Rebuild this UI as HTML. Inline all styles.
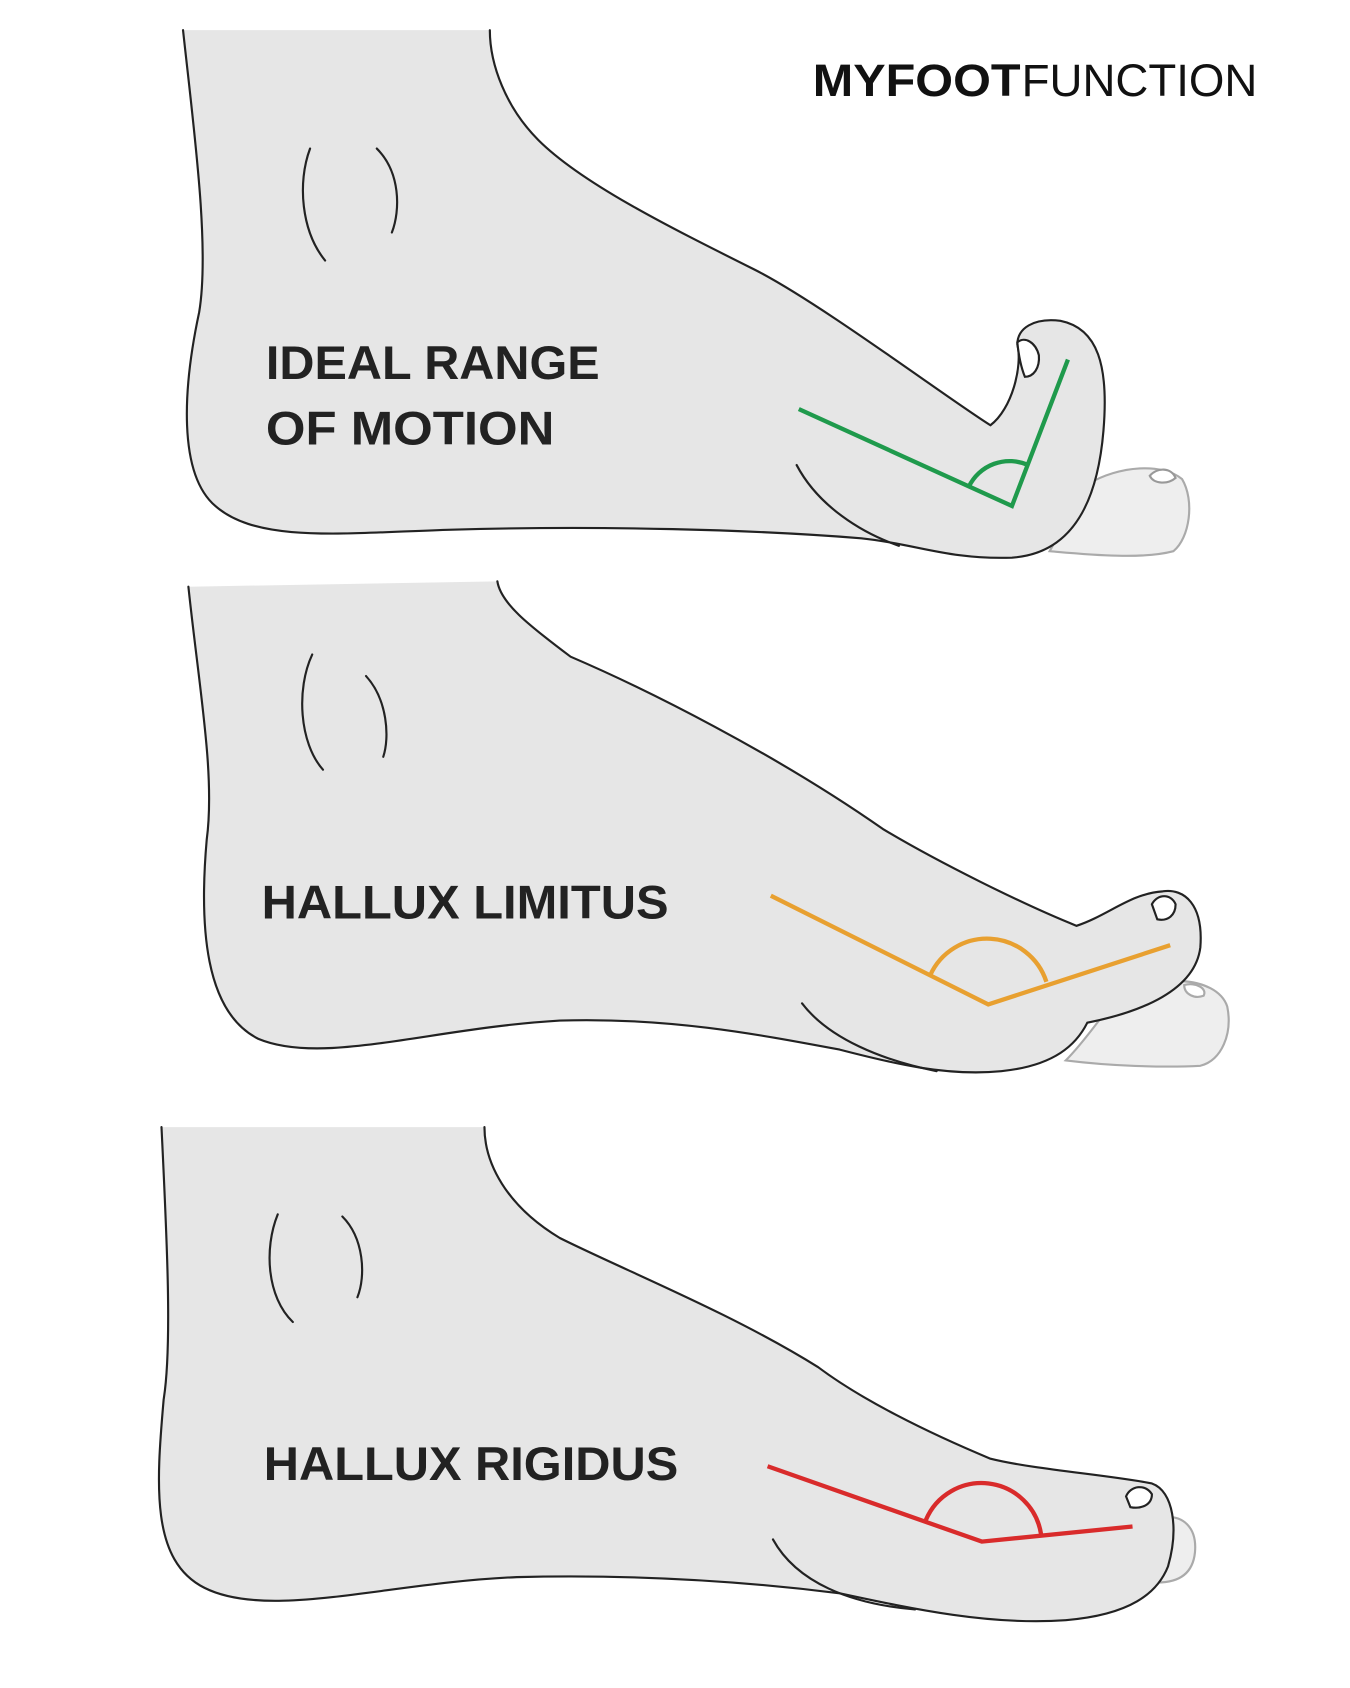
<!DOCTYPE html>
<html><head><meta charset="utf-8"><style>
html,body{margin:0;padding:0;background:#fff;}
svg{display:block;}
text{font-family:"Liberation Sans",sans-serif;}
</style></head><body>
<svg width="1350" height="1688" viewBox="0 0 1254 1568" xmlns="http://www.w3.org/2000/svg">
<rect width="1254" height="1568" fill="#fff"/>
<!-- logo -->
<text x="755" y="89" font-size="42" font-weight="bold" fill="#111" textLength="193" lengthAdjust="spacingAndGlyphs">MYFOOT</text>
<text x="949" y="89" font-size="42" fill="#111" textLength="219" lengthAdjust="spacingAndGlyphs">FUNCTION</text>

<g stroke="#222" stroke-width="2" fill="none" stroke-linecap="round">
<!-- foot 1 -->
<path d="M1010,450 C1040,432 1080,430 1098,445 C1110,465 1105,500 1090,512 C1060,520 1010,515 975,512 Z" fill="#eeeeee" stroke="#aaa"/>
<path d="M1068,442 C1075,434 1088,434 1092,444 C1085,450 1072,450 1068,442 Z" fill="#fff" stroke="#999"/>
<path d="M170,28 C180,120 195,230 185,290 C170,360 165,440 200,470 C240,505 320,495 420,492 C560,488 700,492 800,500 C850,505 880,520 940,518 C1000,514 1020,460 1025,400 C1030,340 1020,305 985,298 C960,295 945,305 945,320 C950,340 940,380 920,395 C880,370 760,280 700,250 C620,210 540,170 500,130 C470,100 455,60 455,28" fill="#e6e6e6"/>
<path d="M945,318 C952,312 962,318 965,330 C966,342 960,350 952,350 C948,340 946,328 945,318 Z" fill="#fff"/>
<path d="M740,432 C760,470 800,495 835,507"/>
<path d="M288,138 C276,170 280,215 302,242"/>
<path d="M350,138 C372,160 372,195 364,216"/>
<!-- foot 2 -->
<path d="M1040,925 C1070,905 1130,905 1140,935 C1145,960 1135,985 1115,990 C1080,992 1030,990 990,985 C1010,965 1025,940 1040,925 Z" fill="#eeeeee" stroke="#aaa"/>
<path d="M1100,915 C1110,912 1122,918 1118,925 C1110,928 1100,924 1100,915 Z" fill="#fff" stroke="#aaa"/>
<path d="M175,545 C185,640 200,720 192,780 C185,860 190,940 240,965 C300,990 400,955 520,948 C620,945 700,960 780,975 C830,988 880,1000 930,995 C980,990 1000,970 1010,950 C1060,940 1110,920 1115,880 C1118,840 1100,825 1080,828 C1050,830 1030,850 1000,860 C950,840 870,800 820,770 C720,700 600,640 530,610 C490,580 465,560 462,540" fill="#e6e6e6"/>
<path d="M1070,840 C1075,830 1088,830 1092,840 C1092,850 1085,856 1075,854 Z" fill="#fff"/>
<path d="M745,932 C770,965 820,985 870,995"/>
<path d="M290,608 C275,640 278,690 300,715"/>
<path d="M340,628 C360,650 362,685 356,703"/>
<!-- foot 3 -->
<path d="M1075,1410 C1100,1405 1112,1420 1110,1442 C1108,1462 1095,1470 1075,1470 C1030,1470 980,1468 950,1460 Z" fill="#eeeeee" stroke="#aaa"/>
<path d="M150,1047 C155,1150 160,1250 152,1300 C145,1380 140,1450 190,1475 C250,1505 360,1470 480,1465 C600,1462 700,1470 780,1480 C850,1495 920,1510 990,1505 C1050,1500 1075,1480 1085,1455 C1095,1420 1090,1385 1070,1378 C1030,1370 960,1365 920,1355 C860,1330 800,1300 760,1270 C680,1220 580,1180 520,1150 C470,1120 450,1080 450,1047" fill="#e6e6e6"/>
<path d="M1046,1390 C1050,1380 1064,1378 1070,1388 C1070,1398 1060,1402 1050,1400 Z" fill="#fff"/>
<path d="M718,1430 C740,1470 790,1490 850,1495"/>
<path d="M258,1128 C245,1160 248,1205 272,1228"/>
<path d="M318,1130 C338,1150 340,1185 332,1205"/>
</g>

<!-- angle markers -->
<g fill="none" stroke-width="4" stroke-linejoin="miter">
<path d="M742,380 L940,470 L992,334" stroke="#1f9a4c"/>
<path d="M900,452 A42,42 0 0 1 955,432" stroke="#1f9a4c"/>
<path d="M716,832 L918,933 L1087,878" stroke="#e8a030"/>
<path d="M864,906 A58,58 0 0 1 972,912" stroke="#e8a030"/>
<path d="M713,1362 L912,1432 L1052,1418" stroke="#d92b2b"/>
<path d="M860,1412 A56,56 0 0 1 967,1425" stroke="#d92b2b"/>
</g>

<!-- labels -->
<g font-weight="bold" font-size="44" fill="#222">
<text x="247" y="352" textLength="310" lengthAdjust="spacingAndGlyphs">IDEAL RANGE</text>
<text x="247" y="413" textLength="268" lengthAdjust="spacingAndGlyphs">OF MOTION</text>
<text x="243" y="853" textLength="378" lengthAdjust="spacingAndGlyphs">HALLUX LIMITUS</text>
<text x="245" y="1375" textLength="385" lengthAdjust="spacingAndGlyphs">HALLUX RIGIDUS</text>
</g>
</svg>
</body></html>
